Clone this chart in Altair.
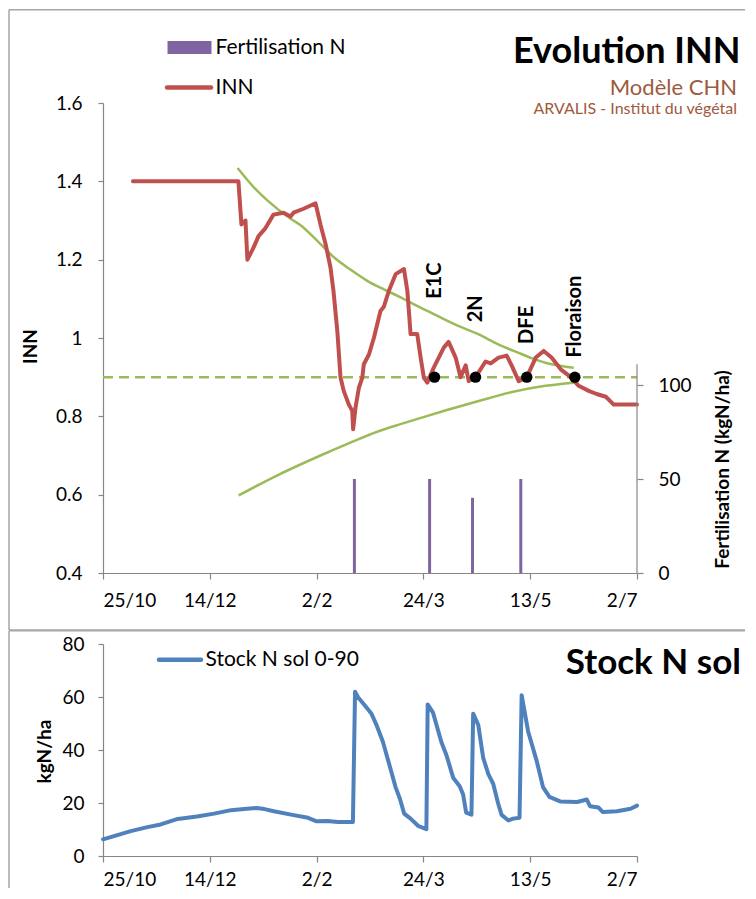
import altair as alt
import pandas as pd

# ---------------- data ----------------
date_labels = ["25/10", "14/12", "2/2", "24/3", "13/5", "2/7"]
tick_days = [0, 50, 100, 150, 200, 250]

inn_day = [14, 63.4, 64.8, 66.7, 67.6, 70.4, 72.8, 76, 79.8, 84.5, 87.8, 89.2, 93.9, 99.5,
           101.8, 104.2, 106.5, 107.9, 109.7, 111.2, 112.7, 115.1, 116.7, 117.1, 118.2,
           119.8, 121.4, 122.1, 124.5, 126.8, 129.9, 131.5, 133.8, 137, 140.9, 142.5, 144,
           147.1, 148.7, 150.2, 151.8, 154.9, 159.6, 161.8, 165.1, 167.4, 169.8, 171.2,
           174.4, 179.1, 181.5, 185.2, 189, 191.3, 194.6, 198.4, 202.6, 206.3, 210, 214.3,
           219, 222.7, 227.4, 231.1, 235.4, 239.1, 250]
inn_val = [1.40, 1.40, 1.29, 1.30, 1.20, 1.23, 1.26, 1.28, 1.315, 1.32, 1.31, 1.32, 1.33, 1.344,
           1.29, 1.24, 1.18, 1.12, 1.018, 0.899, 0.865, 0.83, 0.814, 0.767, 0.822,
           0.873, 0.899, 0.933, 0.958, 1.0, 1.069, 1.08, 1.12, 1.163, 1.176, 1.12, 1.01,
           1.01, 0.95, 0.899, 0.886, 0.925, 0.976, 0.99, 0.95, 0.90, 0.93, 0.89,
           0.90, 0.94, 0.935, 0.95, 0.955, 0.93, 0.89, 0.90, 0.95, 0.967, 0.95, 0.92,
           0.90, 0.878, 0.865, 0.857, 0.85, 0.83, 0.83]

upper_day = [63, 70.4, 76.8, 87.7, 92.5, 100, 108.1, 116, 123.7, 131.5, 139.3, 147, 154.9,
             165, 175.9, 185, 194.6, 201, 207.1, 214, 220.4]
upper_val = [1.434, 1.386, 1.352, 1.305, 1.288, 1.25, 1.206, 1.174, 1.146, 1.124, 1.104,
             1.082, 1.061, 1.034, 1.009, 0.984, 0.962, 0.948, 0.937, 0.929, 0.924]

lower_day = [63.5, 80, 101.8, 115, 129, 139.3, 150, 161, 175.9, 191.5, 207.1, 220.4]
lower_val = [0.598, 0.645, 0.700, 0.731, 0.762, 0.780, 0.798, 0.816, 0.839, 0.862, 0.878, 0.886]

inn_threshold = 0.9

fert_day = [117.7, 152.9, 173.0, 195.6]
fert_val = [50, 50, 40, 50]

stage_name = ["E1C", "2N", "DFE", "Floraison"]
stage_day = [155.2, 174.4, 198.4, 220.9]
stage_inn = [0.9, 0.9, 0.9, 0.9]
stage_label_inn = [1.10, 1.04, 0.985, 0.95]

stock_day = [0, 6.7, 13, 20.8, 27, 35, 44, 52, 60, 66, 72, 75.6, 80, 88, 96, 100, 105, 110,
             117, 118, 119.4, 122.6, 125.7, 128, 131, 134, 137, 139, 141, 144, 147.5, 151.4,
             152, 154.5, 158.4, 160.8, 164, 167, 168.6, 170, 172.5, 173.3, 175.7, 178, 180.4,
             182.7, 185, 186.6, 189.8, 192, 195, 196, 199, 203, 206, 209, 214, 222, 226.5,
             228, 232, 234, 240.6, 247, 250]
stock_val = [6.3, 7.9, 9.4, 10.9, 11.9, 14.0, 14.9, 16.0, 17.3, 17.7, 18.1, 17.7, 16.9, 15.6,
             14.4, 13.1, 13.2, 12.8, 12.8, 62, 59.9, 56.8, 53.7, 49.5, 43.2, 34.6, 25.9, 21.6,
             16.0, 14.1, 11.4, 10.1, 57.2, 54.1, 43.0, 38.0, 29.4, 26.3, 23.2, 16.4, 15.6,
             53.7, 49.4, 37.0, 30.9, 27.2, 19.8, 15.5, 13.4, 14.1, 14.4, 60.7, 47.1, 36,
             26.0, 22.3, 20.6, 20.4, 21.3, 18.8, 18.3, 16.6, 16.9, 17.8, 19.0]

# ---------------- style ----------------
W = 534
H_TOP = 470
H_BOT = 212
FONT = "Lato"
AX = "#868686"
RED = "#c0504d"
GREEN = "#9bbb59"
PURPLE = "#8064a2"
BLUE = "#4f81bd"
FRAME = "#a6a6a6"
BROWN = "#9e5a3c"

one = pd.DataFrame({"k": [0]})

label_expr = "[" + ",".join(f"'{l}'" for l in date_labels) + "][round(datum.value / 50)]"

X_SCALE = alt.Scale(domain=[0, 250], nice=False, zero=False, padding=0)
X_AXIS_TOP = alt.Axis(values=tick_days, labelExpr=label_expr, title=None, tickSize=6,
                      labelPadding=12)
X_AXIS_BOT = alt.Axis(values=tick_days, labelExpr=label_expr, title=None, tickSize=6,
                      labelPadding=8)
INN_SCALE = alt.Scale(domain=[0.4, 1.6], nice=False, zero=False, padding=0)
INN_AXIS = alt.Axis(values=[0.4, 0.6, 0.8, 1.0, 1.2, 1.4, 1.6], format=".1~f", title="INN",
                    tickSize=5, labelPadding=16, titleAngle=270, titleAlign="center",
                    titleBaseline="middle", titleX=-73, titleY=243)
F_SCALE = alt.Scale(domain=[0, 250], nice=False, zero=True, padding=0)
F_AXIS = alt.Axis(orient="right", values=[0, 50, 100], domain=False, tickSize=6,
                  labelPadding=15, title="Fertilisation N (kgN/ha)", titleAngle=270,
                  titleAlign="center", titleBaseline="middle", titleX=85, titleY=366)

FX0 = -94      # frame left (relative to plot origin)
FX1 = 642      # frame right limit (kept inside the page)


def xenc(axis=X_AXIS_TOP):
    return alt.X("day:Q", scale=X_SCALE, axis=axis)


def yinn(field="inn"):
    return alt.Y(f"{field}:Q", scale=INN_SCALE, axis=INN_AXIS)


def ptext(text, x, y, **kw):
    return alt.Chart(one).mark_text(text=text, font=FONT, **kw).encode(
        x=alt.value(x), y=alt.value(y))


def hline(y, x0=FX0, x1=FX1):
    return alt.Chart(one).mark_rule(color=FRAME, strokeWidth=1.5).encode(
        x=alt.value(x0), x2=alt.value(x1), y=alt.value(y))


def vline(x, y0, y1):
    return alt.Chart(one).mark_rule(color=FRAME, strokeWidth=1.5).encode(
        x=alt.value(x), y=alt.value(y0), y2=alt.value(y1))


# ---------------- top panel ----------------
inn_df = pd.DataFrame({"day": inn_day, "inn": inn_val})
up_df = pd.DataFrame({"day": upper_day, "inn": upper_val})
lo_df = pd.DataFrame({"day": lower_day, "inn": lower_val})
thr_df = pd.DataFrame({"day": [tick_days[0]], "day2": [tick_days[-1]], "inn": [inn_threshold]})
fert_df = pd.DataFrame({"day": fert_day, "fert": fert_val})
stage_df = pd.DataFrame({"day": stage_day, "inn": stage_inn, "name": stage_name,
                         "lab": stage_label_inn})

frame_t1 = hline(-93.3)
frame_t2 = hline(527)
frame_t3 = vline(FX0, -93.3, 527)

thr = alt.Chart(thr_df).mark_rule(color=GREEN, strokeWidth=2.5, strokeDash=[10, 6]).encode(
    x=xenc(), x2="day2:Q", y=yinn())
upper = alt.Chart(up_df).mark_line(color=GREEN, strokeWidth=2.5,
                                   interpolate="monotone").encode(x=xenc(), y=yinn())
lower = alt.Chart(lo_df).mark_line(color=GREEN, strokeWidth=2.5,
                                   interpolate="monotone").encode(x=xenc(), y=yinn())
inn_line = alt.Chart(inn_df).mark_line(color=RED, strokeWidth=4, strokeJoin="round",
                                       strokeCap="round").encode(x=xenc(), y=yinn())
dots = alt.Chart(stage_df).mark_circle(color="black", opacity=1, size=130).encode(
    x=xenc(), y=yinn())
stage_txt = alt.Chart(stage_df).mark_text(angle=270, align="left", baseline="middle",
                                          font=FONT, fontWeight="bold", fontSize=20,
                                          color="black").encode(
    x=xenc(), y=yinn("lab"), text="name:N")

leg_rect = alt.Chart(one).mark_rect(color=PURPLE).encode(
    x=alt.value(64.5), x2=alt.value(108.5), y=alt.value(-62), y2=alt.value(-49))
leg_line = alt.Chart(one).mark_rule(color=RED, strokeWidth=4.5, strokeCap="round").encode(
    x=alt.value(64), x2=alt.value(108), y=alt.value(-15.5))
leg_t1 = ptext("Fertilisation N", 112.5, -55.5, align="left", baseline="middle", fontSize=21)
leg_t2 = ptext("INN", 112.5, -15.5, align="left", baseline="middle", fontSize=21)

title1 = ptext("Evolution INN", 637.5, -40.5, align="right", baseline="alphabetic",
               fontSize=36, fontWeight="bold", color="black")
title2 = ptext("Modèle CHN", 634, -8, align="right", baseline="alphabetic",
               fontSize=22, color=BROWN)
title3 = ptext("ARVALIS - Institut du végétal", 634, 11, align="right",
               baseline="alphabetic", fontSize=16, color=BROWN)

fert_bars = alt.Chart(fert_df).mark_bar(color=PURPLE, size=3).encode(
    x=xenc(), y=alt.Y("fert:Q", scale=F_SCALE, axis=F_AXIS))
fert_axis_line = alt.Chart(one).mark_rule(color=AX, strokeWidth=1.2).encode(
    x=alt.value(W), y=alt.YDatum(0, scale=F_SCALE, axis=F_AXIS), y2=alt.Y2Datum(111))

inn_layer = alt.layer(frame_t1, frame_t2, frame_t3, leg_rect, leg_line, leg_t1, leg_t2,
                      title1, title2, title3, thr, upper, lower, inn_line, dots, stage_txt)
fert_layer = alt.layer(fert_bars, fert_axis_line)

top = alt.layer(inn_layer, fert_layer).resolve_scale(y="independent").properties(
    width=W, height=H_TOP)

# ---------------- bottom panel ----------------
stock_df = pd.DataFrame({"day": stock_day, "stock": stock_val})

frame_b1 = hline(-13.3)
frame_b2 = vline(FX0, -13.3, 244)
stock_line = alt.Chart(stock_df).mark_line(color=BLUE, strokeWidth=4, strokeJoin="round",
                                           strokeCap="round").encode(
    x=xenc(X_AXIS_BOT),
    y=alt.Y("stock:Q", scale=alt.Scale(domain=[0, 80], nice=False, padding=0),
            axis=alt.Axis(values=[0, 20, 40, 60, 80], tickSize=5, labelPadding=14,
                          title="kgN/ha", titleAngle=270, titleAlign="center",
                          titleBaseline="middle", titleX=-59, titleY=107)))
leg3_line = alt.Chart(one).mark_rule(color=BLUE, strokeWidth=4.5, strokeCap="round").encode(
    x=alt.value(56), x2=alt.value(98), y=alt.value(15.7))
leg3_t = ptext("Stock N sol 0-90", 102.5, 15.7, align="left", baseline="middle", fontSize=21)
title4 = ptext("Stock N sol", 638, 29.7, align="right", baseline="alphabetic",
               fontSize=35, fontWeight="bold", color="black")

bottom = alt.layer(frame_b1, frame_b2, leg3_line, leg3_t, title4, stock_line).properties(
    width=W, height=H_BOT)

chart = alt.vconcat(top, bottom, spacing=71, bounds="flush").properties(
    padding=0
).configure_view(stroke=None).configure_axis(
    grid=False, labelFont=FONT, labelFontSize=19, labelColor="black",
    titleFont=FONT, titleFontSize=19, titleFontWeight="bold", titleColor="black",
    domainColor=AX, tickColor=AX, domainWidth=1.2, tickWidth=1.2
).configure_text(font=FONT)

chart.save("out.html", embed_options={"renderer": "svg", "actions": False})
